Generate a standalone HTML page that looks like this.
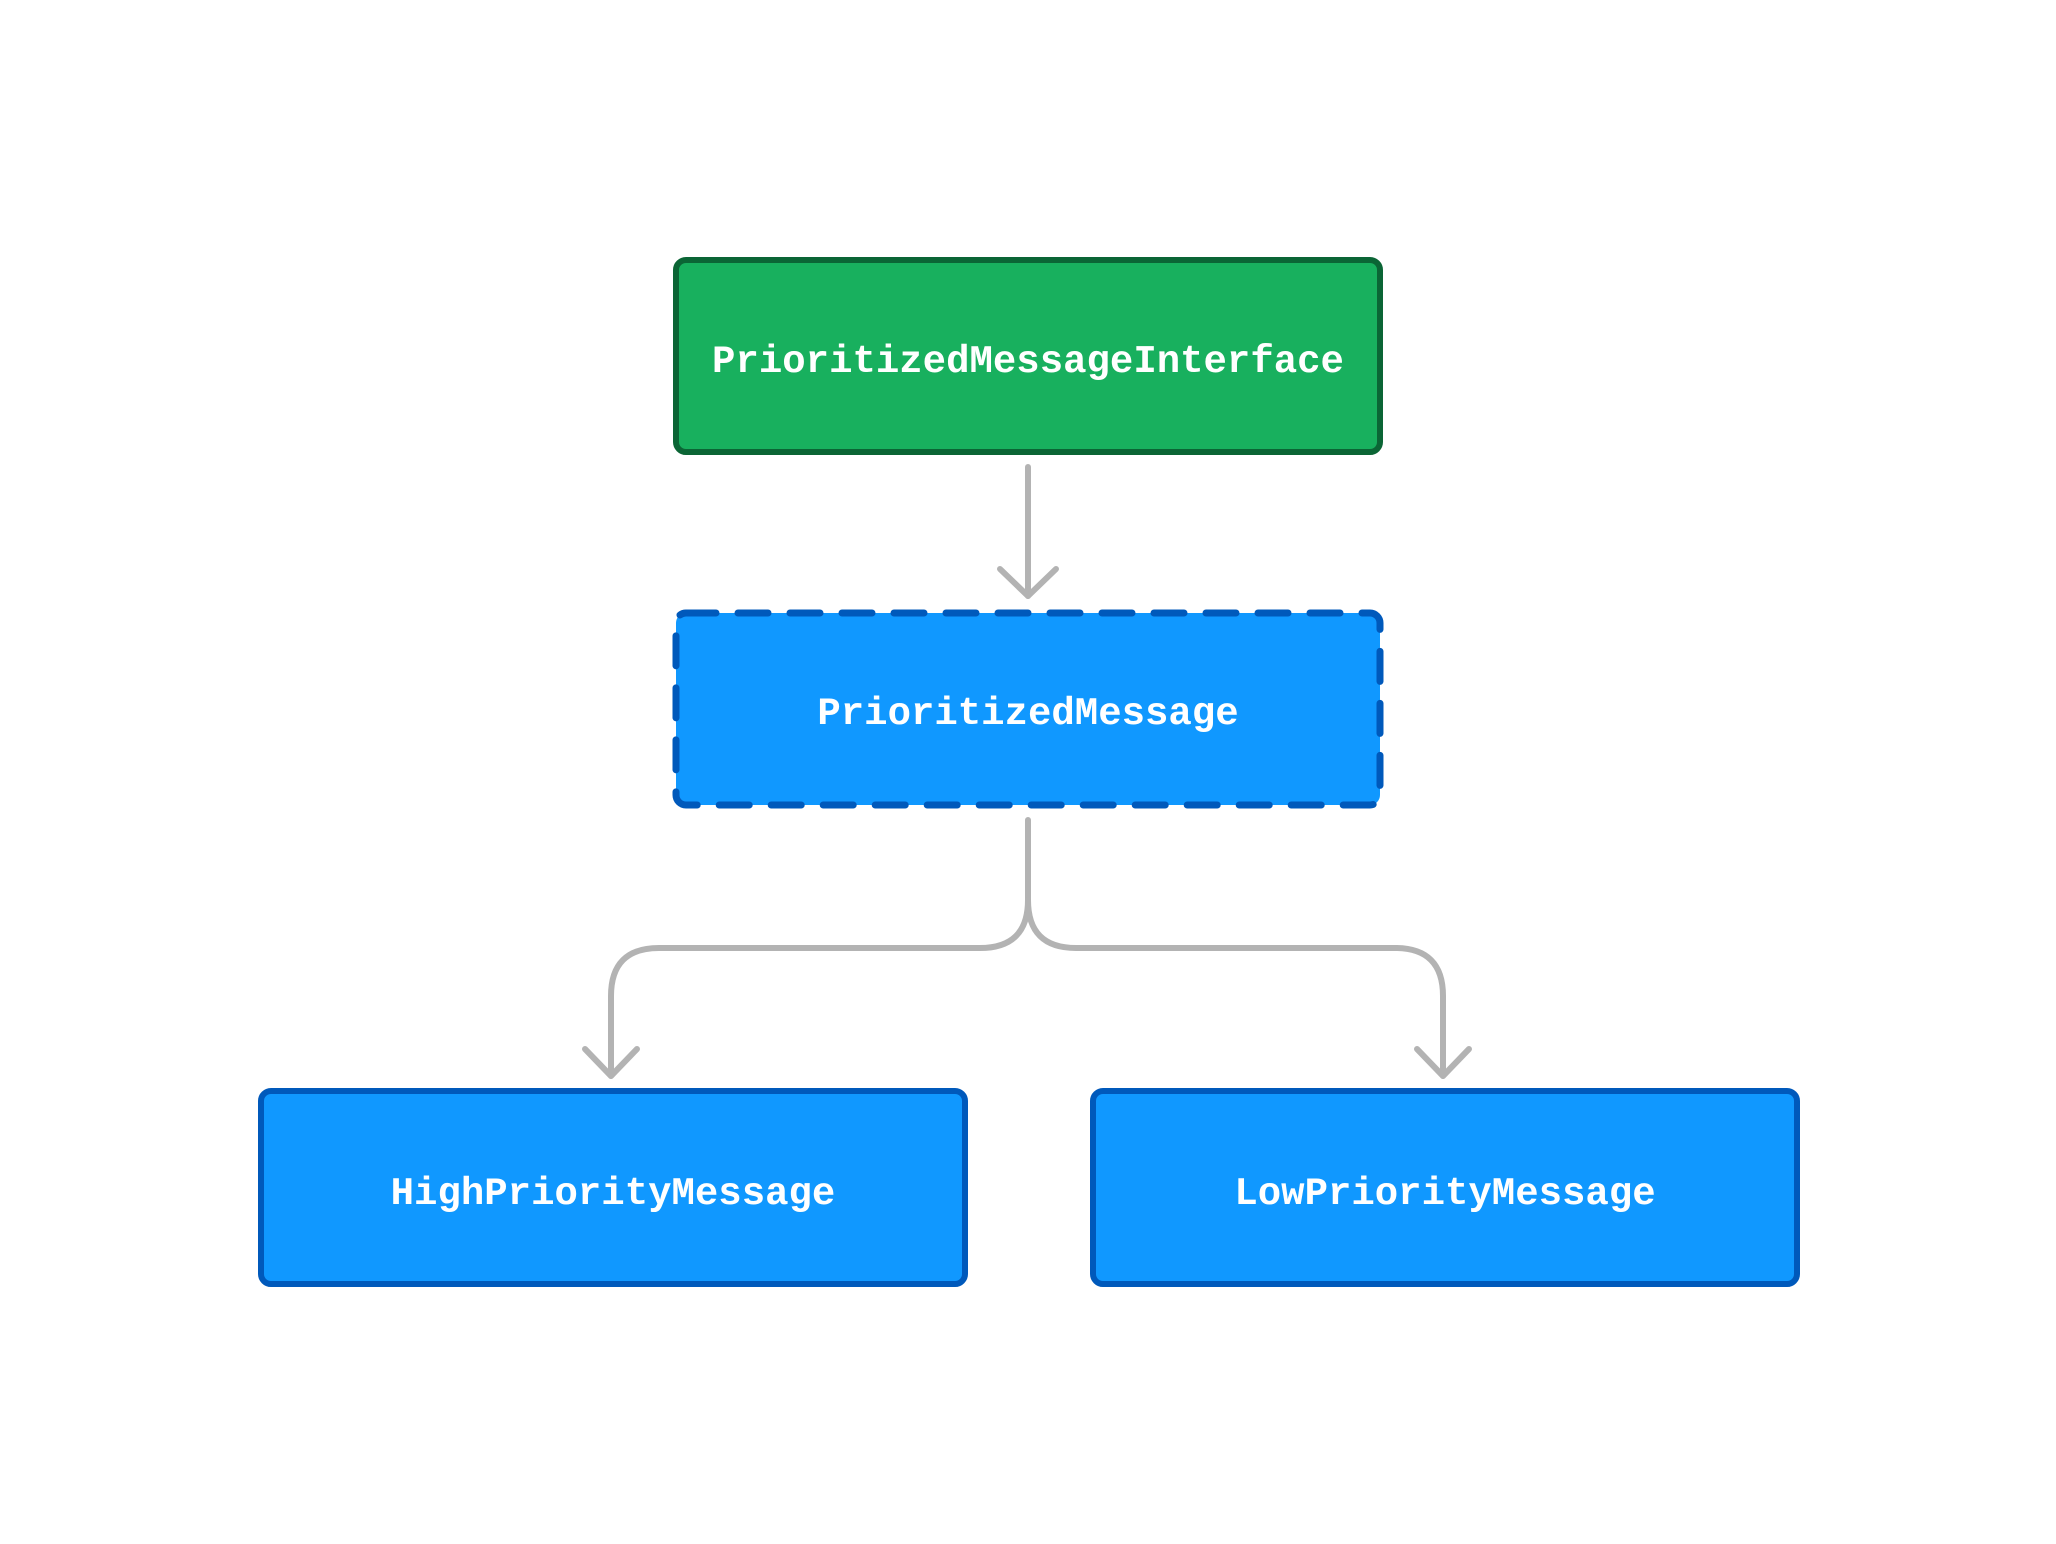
<!DOCTYPE html>
<html><head><meta charset="utf-8"><style>
html,body{margin:0;padding:0;background:#fff;}
svg{display:block}
text{font-family:"Liberation Mono","DejaVu Sans Mono",monospace;font-size:39px;fill:#fff;text-anchor:middle;font-weight:bold}
</style></head><body>
<svg width="2056" height="1544" viewBox="0 0 2056 1544" xmlns="http://www.w3.org/2000/svg">
<rect x="0" y="0" width="2056" height="1544" fill="#fff"/>
<rect x="676" y="260" width="704" height="192" rx="10" fill="#18b05e" stroke="#0b6535" stroke-width="6"/>
<text x="1028" y="372">PrioritizedMessageInterface</text>
<g stroke="#b3b3b3" stroke-width="6" fill="none" stroke-linecap="round" stroke-linejoin="round">
<path d="M1028 467 L1028 596"/>
<path d="M1000 569 L1028 596 L1056 569"/>
<path d="M1028 820 L1028 900 Q1028 948 980 948 L659 948 Q611 948 611 996 L611 1076"/>
<path d="M1028 900 Q1028 948 1076 948 L1395 948 Q1443 948 1443 996 L1443 1076"/>
<path d="M585 1049 L611 1076 L637 1049"/>
<path d="M1417 1049 L1443 1076 L1469 1049"/>
</g>
<rect x="676" y="613" width="704" height="192" rx="10" fill="#1098ff" stroke="#0059bb" stroke-width="7" stroke-dasharray="30 22" stroke-linecap="round"/>
<text x="1028" y="724">PrioritizedMessage</text>
<rect x="261" y="1091" width="704" height="193" rx="10" fill="#1098ff" stroke="#0059bb" stroke-width="6"/>
<text x="613" y="1204">HighPriorityMessage</text>
<rect x="1093" y="1091" width="704" height="193" rx="10" fill="#1098ff" stroke="#0059bb" stroke-width="6"/>
<text x="1445" y="1204">LowPriorityMessage</text>
</svg>
</body></html>
